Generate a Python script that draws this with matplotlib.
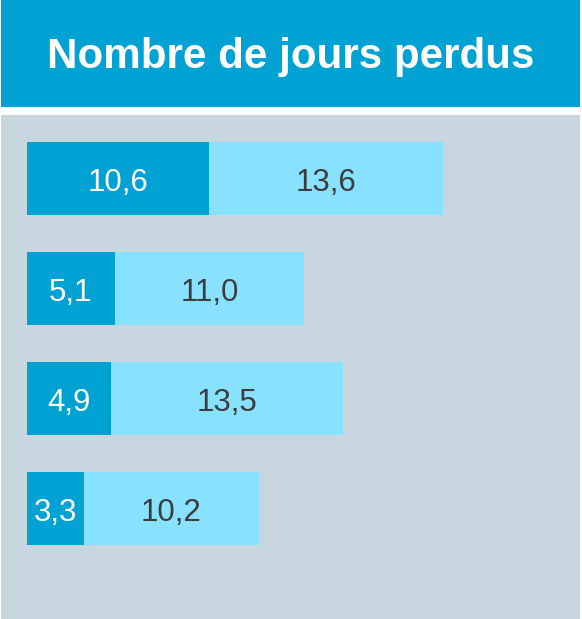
import numpy as np
import matplotlib.pyplot as plt
from matplotlib.patches import Rectangle

plt.rcParams['font.family'] = ['Liberation Sans', 'DejaVu Sans']

title = "Nombre de jours perdus"
dark_values = [10.6, 5.1, 4.9, 3.3]
light_values = [13.6, 11.0, 13.5, 10.2]

dark_color = "#00A1D3"
light_color = "#87E1FF"
panel_color = "#C8D6E0"


def fmt(v):
    return f"{v:.1f}".replace(".", ",")


W, H = 582, 619
fig = plt.figure(figsize=(W / 100, H / 100), dpi=100)
fig.patch.set_facecolor("white")

# header band
fig.patches.append(Rectangle((1 / W, 1 - 107 / H), 579 / W, 107 / H,
                             transform=fig.transFigure, facecolor=dark_color,
                             edgecolor="none", zorder=0))
fig.text(291 / W, 1 - 68 / H, title, color="white", fontsize=30.3,
         fontweight="bold", ha="center", va="baseline")

# bar panel
ax = fig.add_axes([1 / W, 0, 579 / W, 504 / H])
ax.set_facecolor(panel_color)
for s in ax.spines.values():
    s.set_visible(False)
ax.set_xticks([])
ax.set_yticks([])

px = 17.2  # pixels per unit
ax.set_xlim(-26 / px, 579 / px - 26 / px)
ax.set_ylim(504 / 110 - 63.5 / 110, -63.5 / 110)

y = np.arange(len(dark_values))
h = 73 / 110
ax.barh(y, dark_values, height=h, color=dark_color, edgecolor="none")
ax.barh(y, light_values, left=dark_values, height=h, color=light_color,
        edgecolor="none")

off = 12.3 / 110  # baseline sits a bit below bar centre
for yi, d, l in zip(y, dark_values, light_values):
    ax.text(d / 2, yi + off, fmt(d), color="white", fontsize=22.5,
            ha="center", va="baseline")
    ax.text(d + l / 2, yi + off, fmt(l), color="#3C3C3C", fontsize=22.5,
            ha="center", va="baseline")

plt.savefig("out.png", dpi=100)
